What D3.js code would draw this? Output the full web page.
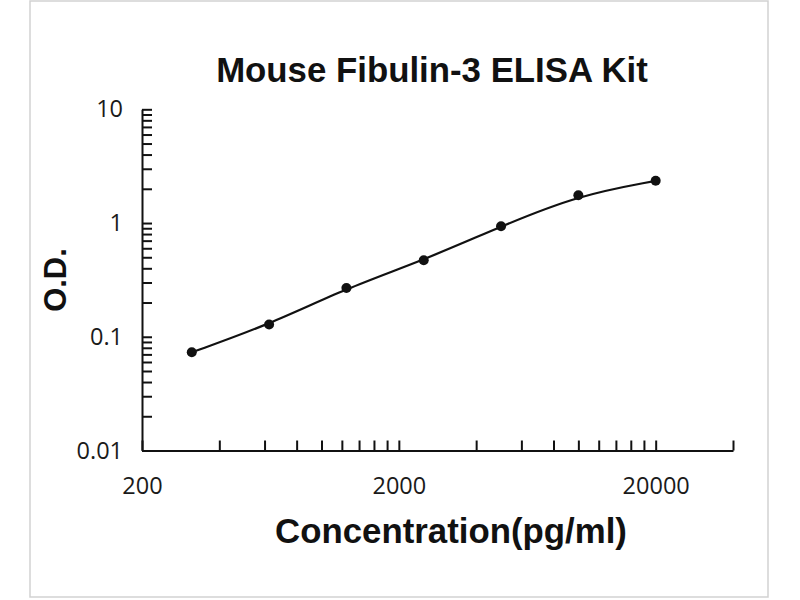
<!DOCTYPE html>
<html>
<head>
<meta charset="utf-8">
<script src="https://cdn.jsdelivr.net/npm/d3@7"></script>
<style>
  html, body { margin: 0; padding: 0; background: #fff; }
  svg { display: block; }
</style>
</head>
<body>
<svg id="chart" width="800" height="600"></svg>
<script>
// ---- data ----
const titleText = "Mouse Fibulin-3 ELISA Kit";
const xLabel = "Concentration(pg/ml)";
const yLabel = "O.D.";
const concentrations = [312.5, 625, 1250, 2500, 5000, 10000, 20000];
const odValues = [0.073, 0.128, 0.268, 0.471, 0.937, 1.757, 2.35];
const xMajorTicks = [200, 2000, 20000];
const yMajorTicks = [0.01, 0.1, 1, 10];
const xDomain = [200, 40000];
const yDomain = [0.01, 10];

// ---- layout ----
const svg = d3.select("#chart");
const plotLeft = 142, plotRight = 733, plotTop = 109.3, plotBottom = 450.5;

svg.append("rect")
  .attr("x", 30).attr("y", 1).attr("width", 738).attr("height", 596)
  .attr("fill", "#fff").attr("stroke", "#d2d2d2").attr("stroke-width", 1.5);

const x = d3.scaleLog().domain(xDomain).range([plotLeft, plotRight]);
const y = d3.scaleLog().domain(yDomain).range([plotBottom, plotTop]);

function minorTicks(majors, domain) {
  const out = [];
  majors.forEach(m => {
    for (let k = 1; k <= 9; k++) {
      const v = m * k;
      if (v >= domain[0] - 1e-12 && v <= domain[1] * (1 + 1e-9)) out.push(v);
    }
  });
  return out;
}
const xTicks = minorTicks(xMajorTicks, xDomain);
const yTicks = minorTicks(yMajorTicks, yDomain);

const fmtX = v => xMajorTicks.some(m => Math.abs(m - v) < 1e-9) ? String(v) : "";
const fmtY = v => yMajorTicks.some(m => Math.abs(m - v) / m < 1e-9) ? String(+v.toPrecision(3)) : "";

const xAxis = svg.append("g")
  .attr("transform", `translate(0,${plotBottom})`)
  .call(d3.axisBottom(x).tickValues(xTicks).tickFormat(fmtX)
    .tickSizeInner(-10).tickSizeOuter(0).tickPadding(27));

const yAxis = svg.append("g")
  .attr("transform", `translate(${plotLeft},0)`)
  .call(d3.axisLeft(y).tickValues(yTicks).tickFormat(fmtY)
    .tickSizeInner(-10).tickSizeOuter(0).tickPadding(19));

[xAxis, yAxis].forEach(g => {
  g.select(".domain").attr("stroke", "#111").attr("stroke-width", 2);
  g.selectAll(".tick line").attr("stroke", "#111").attr("stroke-width", 2);
  g.selectAll(".tick text")
    .attr("fill", "#1a1a1a")
    .style("font-family", "'Open Sans', sans-serif")
    .style("font-size", "23.5px");
});

// ---- curve & points ----
const pts = concentrations.map((c, i) => [x(c), y(odValues[i])]);
svg.append("path")
  .attr("d", d3.line().curve(d3.curveBasis)(pts))
  .attr("fill", "none").attr("stroke", "#111").attr("stroke-width", 2.2);

svg.selectAll("circle.pt")
  .data(concentrations)
  .join("circle")
  .attr("class", "pt")
  .attr("cx", d => x(d))
  .attr("cy", (d, i) => y(odValues[i]))
  .attr("r", 5)
  .attr("fill", "#111");

// ---- text ----
svg.append("text")
  .attr("x", 432).attr("y", 82)
  .attr("text-anchor", "middle")
  .style("font-family", "'Liberation Sans', Arial, sans-serif")
  .style("font-weight", "bold")
  .style("font-size", "34.8px")
  .attr("fill", "#111")
  .text(titleText);

svg.append("text")
  .attr("x", 451).attr("y", 543)
  .attr("text-anchor", "middle")
  .style("font-family", "'Liberation Sans', Arial, sans-serif")
  .style("font-weight", "bold")
  .style("font-size", "34.8px")
  .attr("fill", "#111")
  .text(xLabel);

svg.append("text")
  .attr("transform", "translate(66,280) rotate(-90)")
  .attr("text-anchor", "middle")
  .style("font-family", "'Liberation Sans', Arial, sans-serif")
  .style("font-weight", "bold")
  .style("font-size", "31px")
  .attr("fill", "#111")
  .text(yLabel);
</script>
</body>
</html>
